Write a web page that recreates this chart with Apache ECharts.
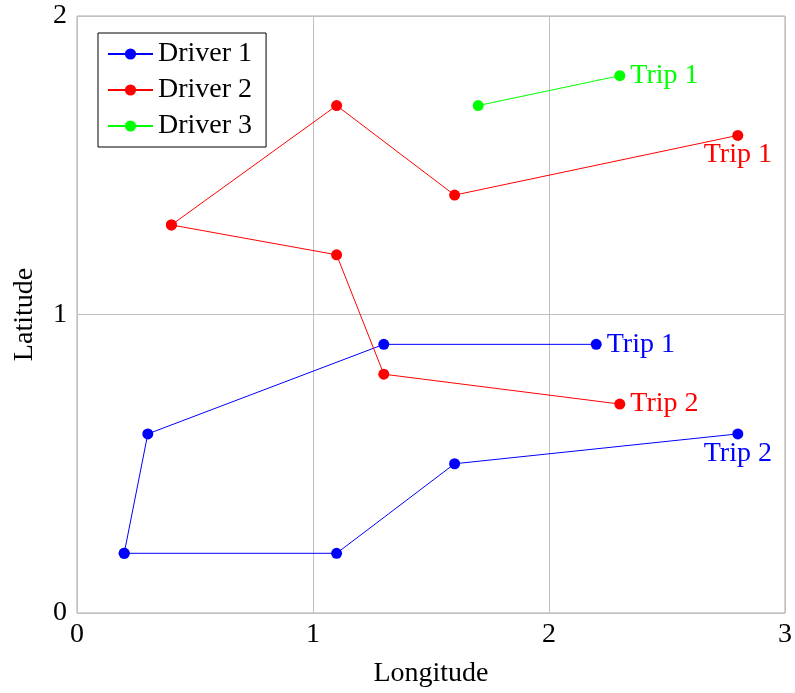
<!DOCTYPE html>
<html>
<head>
<meta charset="utf-8">
<script src="https://cdn.jsdelivr.net/npm/echarts@6/dist/echarts.min.js"></script>
<style>
  html, body { margin: 0; padding: 0; background: #fff; }
  #chart { width: 795px; height: 693px; }
</style>
</head>
<body>
<div id="chart"></div>
<script>
// trip points, [longitude, latitude]
const driver1Trip1 = [[0.2, 0.2], [0.3, 0.6], [1.3, 0.9], [2.2, 0.9]]
const driver1Trip2 = [[0.2, 0.2], [1.1, 0.2], [1.6, 0.5], [2.8, 0.6]]
const driver2Trip1 = [[0.4, 1.3], [1.1, 1.7], [1.6, 1.4], [2.8, 1.6]]
const driver2Trip2 = [[0.4, 1.3], [1.1, 1.2], [1.3, 0.8], [2.3, 0.7]]
const driver3Trip1 = [[1.7, 1.7], [2.3, 1.8]]

const drivers = ['Driver 1', 'Driver 2', 'Driver 3']
const xTicks = [0, 1, 2, 3]
const yTicks = [0, 1, 2]

const FONT = 'Liberation Serif'
const FS = 28
const colors = { 'Driver 1': '#0000ff', 'Driver 2': '#ff0000', 'Driver 3': '#00ff00' }

// which trip goes with which driver, and where its label sits
const trips = [
  { driver: 'Driver 1', trip: 'Trip 1', data: driver1Trip1, pos: 'right' },
  { driver: 'Driver 1', trip: 'Trip 2', data: driver1Trip2, pos: 'bottom' },
  { driver: 'Driver 2', trip: 'Trip 1', data: driver2Trip1, pos: 'bottom' },
  { driver: 'Driver 2', trip: 'Trip 2', data: driver2Trip2, pos: 'right' },
  { driver: 'Driver 3', trip: 'Trip 1', data: driver3Trip1, pos: 'right' }
]

const series = trips.map(t => {
  const color = colors[t.driver]
  const last = t.data.length - 1
  return {
    name: t.driver,
    type: 'line',
    symbol: 'circle',
    symbolSize: 11,
    color: color,
    lineStyle: { color: color, width: 1 },
    itemStyle: { color: color },
    animation: false,
    data: t.data.map((p, i) => i === last
      ? {
          value: p,
          label: {
            show: true,
            formatter: t.trip,
            position: t.pos,
            distance: t.pos === 'right' ? 5 : 0,
            color: color,
            fontFamily: FONT,
            fontSize: FS
          }
        }
      : p)
  }
})

const chart = echarts.init(document.getElementById('chart'))
chart.setOption({
  animation: false,
  grid: {
    left: 77, right: 7, top: 16, bottom: 80,
    show: true, borderColor: '#aaaaaa', borderWidth: 1
  },
  legend: {
    data: drivers,
    orient: 'vertical',
    left: 98,
    top: 33,
    padding: [7, 14, 7, 9],
    itemGap: 8,
    itemWidth: 45,
    itemHeight: 14,
    borderColor: '#000',
    borderWidth: 1,
    backgroundColor: '#fff',
    textStyle: { fontFamily: FONT, fontSize: FS, color: '#000' }
  },
  xAxis: {
    type: 'value',
    min: xTicks[0],
    max: xTicks[xTicks.length - 1],
    interval: 1,
    name: 'Longitude',
    nameLocation: 'middle',
    nameGap: 47,
    nameTextStyle: { fontFamily: FONT, fontSize: FS, color: '#000' },
    axisLine: { show: false },
    axisTick: { show: false },
    axisLabel: { fontFamily: FONT, fontSize: FS, color: '#000', margin: 8 },
    splitLine: { lineStyle: { color: '#c0c0c0', width: 1 } }
  },
  yAxis: {
    type: 'value',
    min: yTicks[0],
    max: yTicks[yTicks.length - 1],
    interval: 1,
    name: 'Latitude',
    nameLocation: 'middle',
    nameGap: 38,
    nameTextStyle: { fontFamily: FONT, fontSize: FS, color: '#000' },
    axisLine: { show: false },
    axisTick: { show: false },
    axisLabel: { fontFamily: FONT, fontSize: FS, color: '#000', margin: 10 },
    splitLine: { lineStyle: { color: '#c0c0c0', width: 1 } }
  },
  series: series
})
</script>
</body>
</html>
